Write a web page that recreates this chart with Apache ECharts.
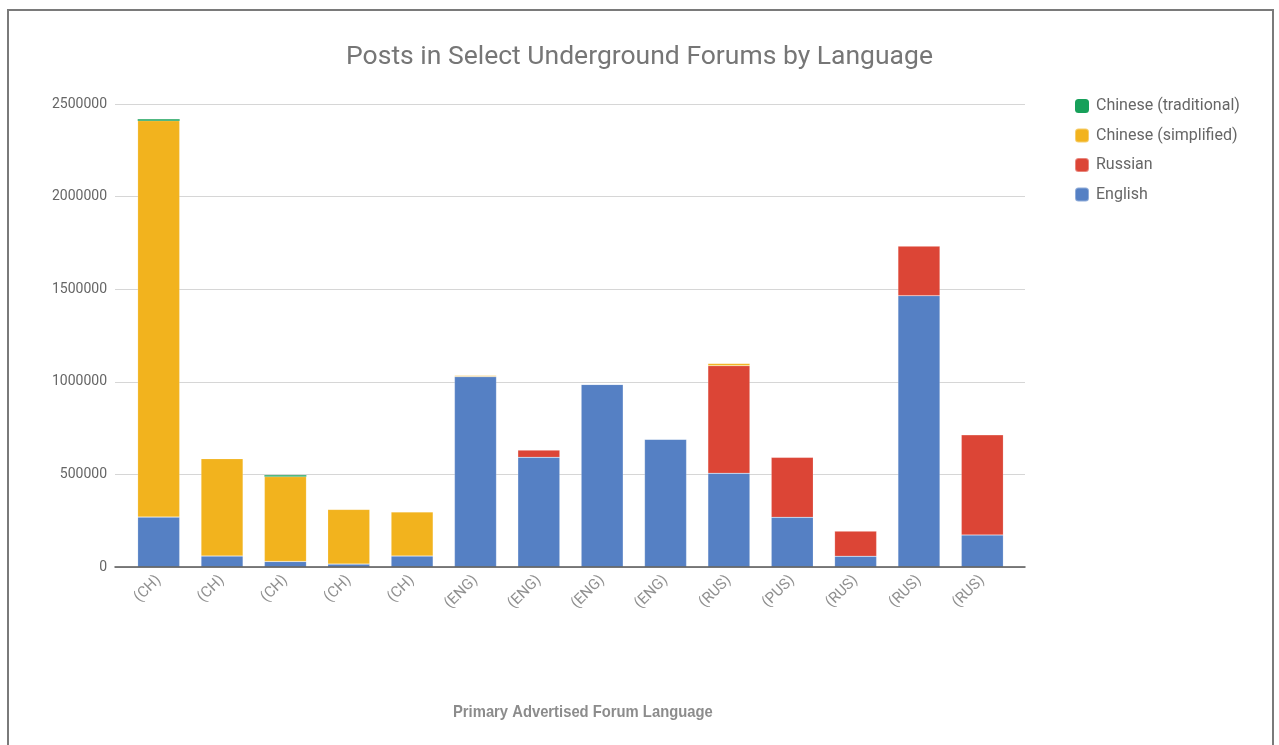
<!DOCTYPE html>
<html>
<head>
<meta charset="utf-8">
<script src="https://cdn.jsdelivr.net/npm/echarts@6/dist/echarts.min.js"></script>
<style>html,body{margin:0;padding:0;background:#fff;}#c{width:1279px;height:745px;}</style>
</head>
<body>
<div id="c"></div>
<script>
const categories = ['(CH)','(CH)','(CH)','(CH)','(CH)','(ENG)','(ENG)','(ENG)','(ENG)','(RUS)','(PUS)','(RUS)','(RUS)','(RUS)'];
const english           = [270000, 60000, 30000, 16000, 60000, 1028000, 592000, 986000, 690000, 506000, 268000, 58000, 1465000, 173000];
const russian           = [0, 0, 0, 0, 0, 0, 40000, 0, 0, 581000, 324000, 136000, 268000, 541000];
const chineseSimplified = [2140000, 525000, 458000, 295000, 237000, 6000, 0, 0, 0, 12000, 0, 0, 0, 0];
const chineseTraditional= [7000, 0, 7000, 0, 0, 0, 0, 0, 0, 0, 0, 0, 0, 0];
const yTicks = [0, 500000, 1000000, 1500000, 2000000, 2500000];

const font = 'Roboto, "Liberation Sans", Arial, sans-serif';
const chart = echarts.init(document.getElementById('c'), null, {renderer: 'canvas'});
const yMin = yTicks[0], yMax = yTicks[yTicks.length - 1], yStep = yTicks[1] - yTicks[0];
const colors = {en: '#5580c4', ru: '#dc4536', cs: '#f2b31e', ct: '#17a05a'};
function bar(name, data, color, border) {
  return {name, type: 'bar', stack: 'total', data, xAxisIndex: 0, yAxisIndex: 0,
    barWidth: 42, itemStyle: border ? {color, borderColor: 'rgba(255,255,255,0.35)', borderWidth: 0.5} : {color}};
}
chart.setOption({
  animation: false,
  title: {text: 'Posts in Select Underground Forums by Language', left: 'center', top: 39,
    textStyle: {fontFamily: font, fontSize: 26.5, fontWeight: 'normal', color: '#767676'}},
  legend: {orient: 'vertical', left: 1069, top: 93, itemWidth: 14, itemHeight: 14, itemGap: 13.5,
    icon: 'roundRect',
    data: ['Chinese (traditional)', 'Chinese (simplified)', 'Russian', 'English'],
    textStyle: {fontFamily: font, fontSize: 16, color: '#666', padding: [0, 0, 0, 2]}},
  grid: [
    {left: 127, right: 265, top: 104, bottom: 178},
    {left: 115, right: 254, top: 104, bottom: 178}
  ],
  xAxis: [
    {type: 'category', gridIndex: 0, data: categories, boundaryGap: true,
      axisLine: {show: false}, axisTick: {show: false},
      axisLabel: {rotate: 45, margin: 11, fontFamily: font, fontSize: 15, color: '#909090', interval: 0}},
    {type: 'category', gridIndex: 1, data: [''], axisLine: {show: true, lineStyle: {color: '#555', width: 1.5}},
      axisTick: {show: false}, axisLabel: {show: false}, z: 10}
  ],
  yAxis: [
    {type: 'value', gridIndex: 0, min: yMin, max: yMax, interval: yStep, show: false, splitLine: {show: false}},
    {type: 'value', gridIndex: 1, min: yMin, max: yMax, interval: yStep,
      axisLine: {show: false}, axisTick: {show: false},
      axisLabel: {margin: 8, fontFamily: font, fontSize: 14, color: '#666', formatter: v => String(v)},
      splitLine: {lineStyle: {color: '#d6d6d6', width: 1}}}
  ],
  series: [
    bar('English', english, colors.en, true),
    bar('Russian', russian, colors.ru, true),
    bar('Chinese (simplified)', chineseSimplified, colors.cs, true),
    bar('Chinese (traditional)', chineseTraditional, colors.ct, false)
  ],
  graphic: [
    {type: 'rect', shape: {x: 8, y: 10, width: 1265, height: 800}, silent: true,
      style: {fill: 'none', stroke: '#7a7a7a', lineWidth: 2}},
    {type: 'text', x: 453, y: 704, scaleX: 0.87, silent: true,
      style: {text: 'Primary Advertised Forum Language', fontFamily: '"Liberation Sans", Arial, sans-serif',
        fontSize: 17, fontWeight: 'bold', fill: '#8c8c8c'}}
  ]
});
</script>
</body>
</html>
